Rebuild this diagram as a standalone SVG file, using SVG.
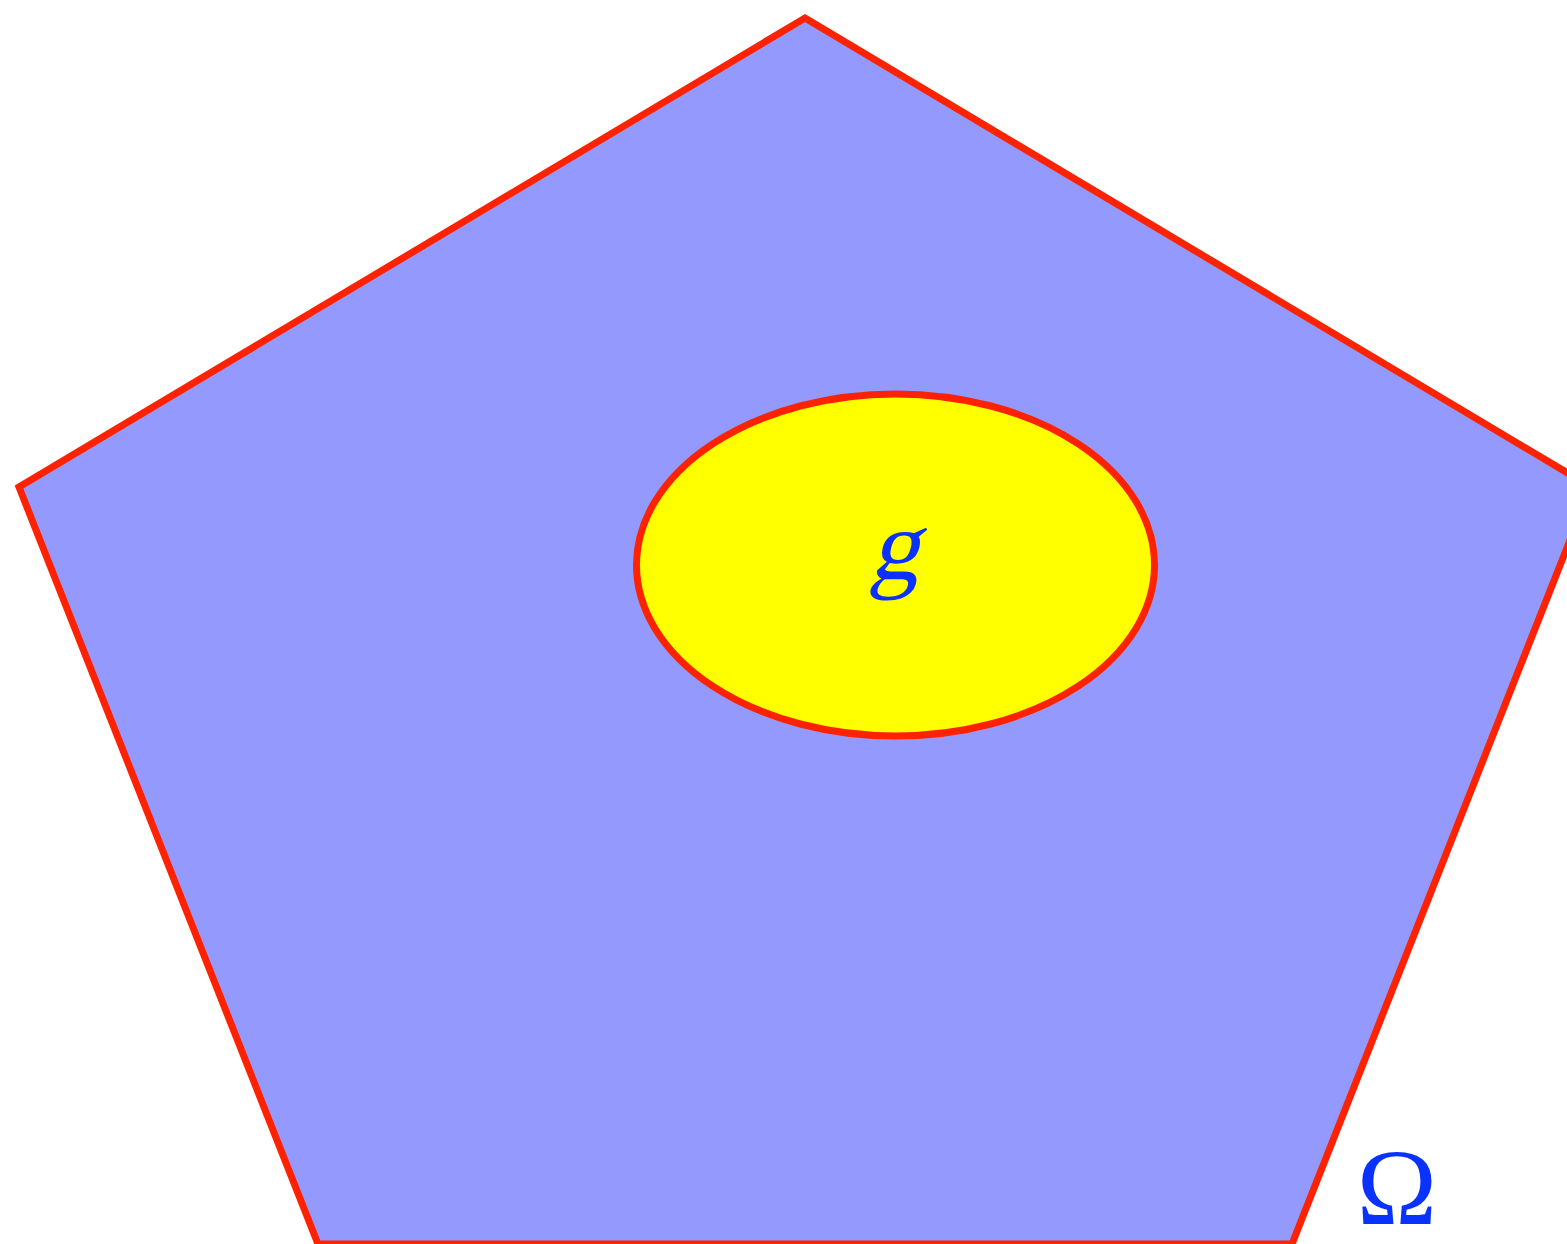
<svg xmlns="http://www.w3.org/2000/svg" width="1567" height="1244" viewBox="0 0 1567 1244">
<style>
.shape{stroke:#ff2200;stroke-width:7;stroke-linejoin:miter}
.lbl{font-family:"Liberation Serif","DejaVu Serif",serif;fill:#0a32ff}
</style>
<rect width="1567" height="1244" fill="#ffffff"/>
<g id="omega-region">
<polygon class="shape" fill="#9399fd" points="805,18 1591,487 1292,1244 318,1244 19,487"/>
<text class="lbl" x="1397" y="1224" font-size="108" text-anchor="middle">Ω</text>
</g>
<g id="g-region">
<ellipse class="shape" fill="#ffff00" cx="895.5" cy="565" rx="259" ry="171"/>
<text class="lbl" transform="translate(894,579) skewX(-14)" x="0" y="0" font-size="100" text-anchor="middle">g</text>
</g>
<g id="connectors"/>
</svg>
